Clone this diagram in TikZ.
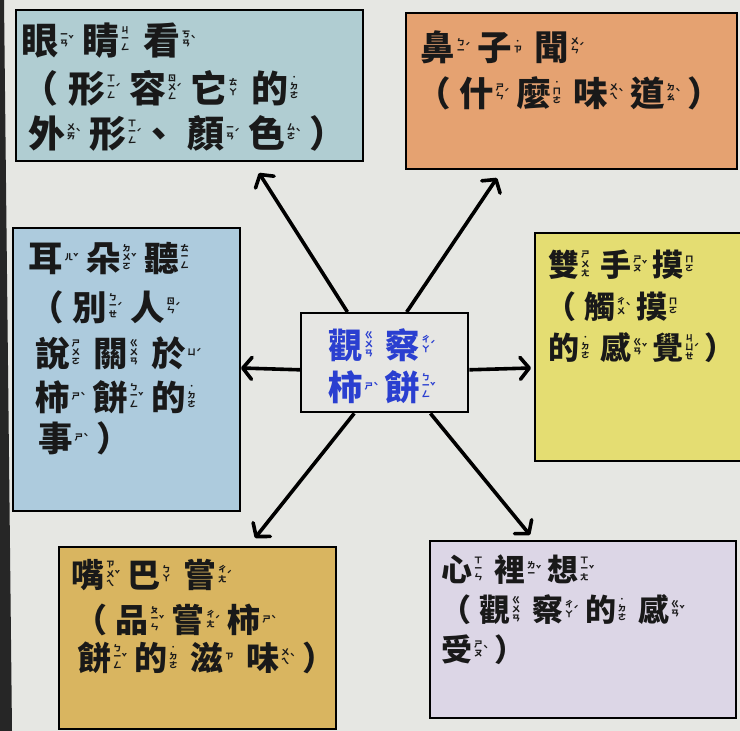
\documentclass[tikz,border=0pt]{standalone}
\usepackage{fontspec}
\setmainfont{Noto Sans CJK TC}
\usetikzlibrary{arrows.meta,calc}
\newdimen\zs \newdimen\zw \newdimen\zg
\zw=13pt
\newcommand\zsz[2]{\zs=#1pt\relax\zg=#2pt\relax\fontsize{#1}{#1}\selectfont\bfseries}
\newcommand\zyf{\fontsize{8.5}{7.8}\selectfont\bfseries}
\newcommand\zc[3]{#1\kern1.5pt\makebox[\zw][l]{\raisebox{\dimexpr0.38\zs-2pt\relax}{\zyf\begin{tabular}{@{}c@{}}#2\end{tabular}\kern0.3pt\begin{tabular}{@{}c@{}}#3\end{tabular}}}\kern\zg}
\newcommand\lp{（\kern0.26\zs}
\newcommand\dun{\kern-\zg、\kern\zg}
\definecolor{bg}{HTML}{E6E7E3}
\definecolor{cA}{HTML}{B0CDD2}
\definecolor{cB}{HTML}{E5A271}
\definecolor{cC}{HTML}{ADCBDD}
\definecolor{cD}{HTML}{E4DD72}
\definecolor{cE}{HTML}{E6E6E3}
\definecolor{cF}{HTML}{D9B560}
\definecolor{cG}{HTML}{DCD6E6}
\definecolor{zblue}{HTML}{2A3FD0}
\tikzset{
  panel/.style={draw=black, line width=2.4pt, inner sep=0pt, anchor=north west},
  ln/.style={anchor=base west, inner sep=0pt, text=black!90},
  arr/.style={line width=3.6pt, -{Straight Barb[length=9pt,width=22pt,round]}},
}
\begin{document}
\begin{tikzpicture}[x=1pt,y=-1pt]
\useasboundingbox (0,0) rectangle (740,731);
\fill[bg] (0,0) rectangle (740,731);
\fill[black!85] (0,0) -- (4,0) -- (12,731) -- (0,731) -- cycle;
% panels
\node[panel, fill=cA, minimum width=347pt, minimum height=151pt] (b1) at (15,9) {};
\node[panel, fill=cB, minimum width=331pt, minimum height=156pt] (b2) at (405,12) {};
\node[panel, fill=cC, minimum width=227pt, minimum height=283pt] (b3) at (12,227) {};
\node[panel, fill=cD, minimum width=210pt, minimum height=228pt] (b4) at (534,232) {};
\node[panel, fill=cE, minimum width=167pt, minimum height=99pt] (ctr) at (300,312) {};
\node[panel, fill=cF, minimum width=277pt, minimum height=182pt] (b6) at (58,546) {};
\node[panel, fill=cG, minimum width=306pt, minimum height=177pt] (b7) at (429,540) {};
% arrows
\coordinate (t1) at (259,173);
\coordinate (t2) at (497,178);
\coordinate (t3) at (241,368);
\coordinate (t4) at (531,368);
\coordinate (t5) at (255,538);
\coordinate (t6) at (530,535);
\draw[arr] ($(ctr.north west)!0.28!(ctr.north east)$) -- (t1);
\draw[arr] ($(ctr.north west)!0.63!(ctr.north east)$) -- (t2);
\draw[arr] ($(ctr.north west)!0.57!(ctr.south west)$) -- (t3);
\draw[arr] ($(ctr.north east)!0.57!(ctr.south east)$) -- (t4);
\draw[arr] ($(ctr.south west)!0.32!(ctr.south east)$) -- (t5);
\draw[arr] ($(ctr.south west)!0.77!(ctr.south east)$) -- (t6);
% box 1
\node[ln,font=\zsz{37}{9.5}] (b1a) at (21.2,54.1) {\zc{眼}{ㄧ\\ㄢ}{ˇ}\zc{睛}{ㄐ\\ㄧ\\ㄥ}{}\zc{看}{ㄎ\\ㄢ}{ˋ}};
\node[ln,font=\zsz{37}{9.5}] (b1b) at (21.6,102.1) {\lp\zc{形}{ㄒ\\ㄧ\\ㄥ}{ˊ}\zc{容}{ㄖ\\ㄨ\\ㄥ}{ˊ}\zc{它}{ㄊ\\ㄚ}{}\zc{的}{˙\\ㄉ\\ㄜ}{}};
\node[ln,font=\zsz{37}{9.5}] (b1c) at (28.2,147.1) {\zc{外}{ㄨ\\ㄞ}{ˋ}\zc{形}{ㄒ\\ㄧ\\ㄥ}{ˊ}\dun\zc{顏}{ㄧ\\ㄢ}{ˊ}\zc{色}{ㄙ\\ㄜ}{ˋ}）};
% box 2
\node[ln,font=\zsz{34.5}{8}] (b2a) at (420.3,60.1) {\zc{鼻}{ㄅ\\ㄧ}{ˊ}\zc{子}{˙\\ㄗ}{}\zc{聞}{ㄨ\\ㄣ}{ˊ}};
\node[ln,font=\zsz{34.5}{8}] (b2b) at (416,106.1) {\lp\zc{什}{ㄕ\\ㄣ}{ˊ}\zc{麼}{˙\\ㄇ\\ㄜ}{}\zc{味}{ㄨ\\ㄟ}{ˋ}\zc{道}{ㄉ\\ㄠ}{ˋ}）};
% box 3
\node[ln,font=\zsz{34.5}{9}] (b3a) at (28.3,271.1) {\zc{耳}{ㄦ}{ˇ}\zc{朵}{ㄉ\\ㄨ\\ㄛ}{ˇ}\zc{聽}{ㄊ\\ㄧ\\ㄥ}{}};
\node[ln,font=\zsz{34.5}{9}] (b3b) at (29,320.1) {\lp\zc{別}{ㄅ\\ㄧ\\ㄝ}{ˊ}\zc{人}{ㄖ\\ㄣ}{ˊ}};
\node[ln,font=\zsz{34.5}{9}] (b3c) at (35.3,366.1) {\zc{說}{ㄕ\\ㄨ\\ㄛ}{}\zc{關}{ㄍ\\ㄨ\\ㄢ}{}\zc{於}{ㄩ}{ˊ}};
\node[ln,font=\zsz{34.5}{9}] (b3d) at (35.3,410.1) {\zc{柿}{ㄕ}{ˋ}\zc{餅}{ㄅ\\ㄧ\\ㄥ}{ˇ}\zc{的}{˙\\ㄉ\\ㄜ}{}};
\node[ln,font=\zsz{34.5}{9}] (b3e) at (38.3,451.1) {\zc{事}{ㄕ}{ˋ}）};
% box 4
\node[ln,font=\zsz{31}{6.5}] (b4a) at (548.5,276.8) {\zc{雙}{ㄕ\\ㄨ\\ㄤ}{}\zc{手}{ㄕ\\ㄡ}{ˇ}\zc{摸}{ㄇ\\ㄛ}{}};
\node[ln,font=\zsz{31}{6.5}] (b4b) at (545,318.8) {\lp\zc{觸}{ㄔ\\ㄨ}{ˋ}\zc{摸}{ㄇ\\ㄛ}{}};
\node[ln,font=\zsz{31}{6.5}] (b4c) at (548.5,359.8) {\zc{的}{˙\\ㄉ\\ㄜ}{}\zc{感}{ㄍ\\ㄢ}{ˇ}\zc{覺}{ㄐ\\ㄩ\\ㄝ}{ˊ}）};
% centre
\node[ln,font=\zsz{34.5}{8},text=zblue] (ca) at (328.3,358.1) {\zc{觀}{ㄍ\\ㄨ\\ㄢ}{}\zc{察}{ㄔ\\ㄚ}{ˊ}};
\node[ln,font=\zsz{34.5}{8},text=zblue] (cb) at (328.3,400.1) {\zc{柿}{ㄕ}{ˋ}\zc{餅}{ㄅ\\ㄧ\\ㄥ}{ˇ}};
% box 6
\node[ln,font=\zsz{33}{8.5}] (b6a) at (71.4,587.5) {\zc{嘴}{ㄗ\\ㄨ\\ㄟ}{ˇ}\zc{巴}{ㄅ\\ㄚ}{}\zc{嘗}{ㄔ\\ㄤ}{ˊ}};
\node[ln,font=\zsz{33}{8.5}] (b6b) at (74,632.5) {\lp\zc{品}{ㄆ\\ㄧ\\ㄣ}{ˇ}\zc{嘗}{ㄔ\\ㄤ}{ˊ}\zc{柿}{ㄕ}{ˋ}};
\node[ln,font=\zsz{33}{8.5}] (b6c) at (78.4,670.5) {\zc{餅}{ㄅ\\ㄧ\\ㄥ}{ˇ}\zc{的}{˙\\ㄉ\\ㄜ}{}\zc{滋}{ㄗ}{}\zc{味}{ㄨ\\ㄟ}{ˋ}）};
% box 7
\node[ln,font=\zsz{31}{7.5}] (b7a) at (441.5,581.8) {\zc{心}{ㄒ\\ㄧ\\ㄣ}{}\zc{裡}{ㄌ\\ㄧ}{ˇ}\zc{想}{ㄒ\\ㄧ\\ㄤ}{ˇ}};
\node[ln,font=\zsz{31}{7.5}] (b7b) at (440,621.8) {\lp\zc{觀}{ㄍ\\ㄨ\\ㄢ}{}\zc{察}{ㄔ\\ㄚ}{ˊ}\zc{的}{˙\\ㄉ\\ㄜ}{}\zc{感}{ㄍ\\ㄢ}{ˇ}};
\node[ln,font=\zsz{31}{7.5}] (b7c) at (441.5,661.8) {\zc{受}{ㄕ\\ㄡ}{ˋ}）};
\end{tikzpicture}
\end{document}
